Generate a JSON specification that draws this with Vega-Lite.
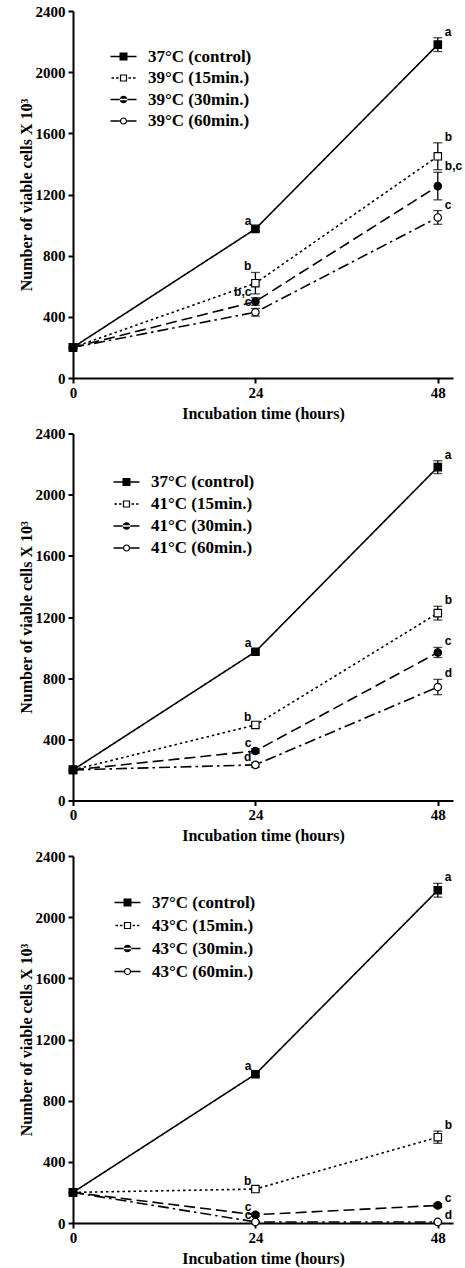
{
  "$schema": "https://vega.github.io/schema/vega-lite/v6.json",
  "padding": {"left": 18, "top": 4, "right": 5, "bottom": 5},
  "spacing": 5.5,
  "config": {
    "view": {"stroke": null},
    "axis": {"domainColor": "black", "domainWidth": 2, "tickColor": "black", "tickWidth": 2, "tickSize": 5, "labelFont": "Liberation Serif", "labelFontWeight": "bold", "labelFontSize": 15, "labelColor": "black", "titleFont": "Liberation Serif", "titleFontWeight": "bold", "titleFontSize": 16, "titleColor": "black", "grid": false, "labelFlush": false},
    "legend": {"labelFont": "Liberation Serif", "labelFontWeight": "bold", "labelFontSize": 17, "labelColor": "black", "padding": 0, "title": null, "orient": "none", "symbolSize": 4, "symbolOpacity": 1, "symbolStrokeWidth": 0, "rowPadding": 4, "labelOffset": 16}
  },
  "data": {"values": [
    {"panel": 1, "series": "39°C (60min.)", "hour": 0, "value": 200, "err": 0, "letter": ""},
    {"panel": 1, "series": "39°C (60min.)", "hour": 24, "value": 430, "err": 25, "letter": "c"},
    {"panel": 1, "series": "39°C (60min.)", "hour": 48, "value": 1050, "err": 45, "letter": "c"},
    {"panel": 1, "series": "39°C (30min.)", "hour": 0, "value": 200, "err": 0, "letter": ""},
    {"panel": 1, "series": "39°C (30min.)", "hour": 24, "value": 500, "err": 25, "letter": "b,c"},
    {"panel": 1, "series": "39°C (30min.)", "hour": 48, "value": 1255, "err": 90, "letter": "b,c"},
    {"panel": 1, "series": "39°C (15min.)", "hour": 0, "value": 200, "err": 0, "letter": ""},
    {"panel": 1, "series": "39°C (15min.)", "hour": 24, "value": 620, "err": 70, "letter": "b"},
    {"panel": 1, "series": "39°C (15min.)", "hour": 48, "value": 1450, "err": 88, "letter": "b"},
    {"panel": 1, "series": "37°C (control)", "hour": 0, "value": 200, "err": 0, "letter": ""},
    {"panel": 1, "series": "37°C (control)", "hour": 24, "value": 975, "err": 15, "letter": "a"},
    {"panel": 1, "series": "37°C (control)", "hour": 48, "value": 2180, "err": 45, "letter": "a"},
    {"panel": 2, "series": "41°C (60min.)", "hour": 0, "value": 200, "err": 0, "letter": ""},
    {"panel": 2, "series": "41°C (60min.)", "hour": 24, "value": 233, "err": 15, "letter": "d"},
    {"panel": 2, "series": "41°C (60min.)", "hour": 48, "value": 742, "err": 50, "letter": "d"},
    {"panel": 2, "series": "41°C (30min.)", "hour": 0, "value": 200, "err": 0, "letter": ""},
    {"panel": 2, "series": "41°C (30min.)", "hour": 24, "value": 324, "err": 15, "letter": "c"},
    {"panel": 2, "series": "41°C (30min.)", "hour": 48, "value": 968, "err": 33, "letter": "c"},
    {"panel": 2, "series": "41°C (15min.)", "hour": 0, "value": 200, "err": 0, "letter": ""},
    {"panel": 2, "series": "41°C (15min.)", "hour": 24, "value": 494, "err": 15, "letter": "b"},
    {"panel": 2, "series": "41°C (15min.)", "hour": 48, "value": 1225, "err": 45, "letter": "b"},
    {"panel": 2, "series": "37°C (control)", "hour": 0, "value": 200, "err": 0, "letter": ""},
    {"panel": 2, "series": "37°C (control)", "hour": 24, "value": 973, "err": 15, "letter": "a"},
    {"panel": 2, "series": "37°C (control)", "hour": 48, "value": 2180, "err": 42, "letter": "a"},
    {"panel": 3, "series": "43°C (60min.)", "hour": 0, "value": 200, "err": 0, "letter": ""},
    {"panel": 3, "series": "43°C (60min.)", "hour": 24, "value": 7, "err": 5, "letter": "c"},
    {"panel": 3, "series": "43°C (60min.)", "hour": 48, "value": 7, "err": 5, "letter": "d"},
    {"panel": 3, "series": "43°C (30min.)", "hour": 0, "value": 200, "err": 0, "letter": ""},
    {"panel": 3, "series": "43°C (30min.)", "hour": 24, "value": 54, "err": 10, "letter": "c"},
    {"panel": 3, "series": "43°C (30min.)", "hour": 48, "value": 115, "err": 12, "letter": "c"},
    {"panel": 3, "series": "43°C (15min.)", "hour": 0, "value": 200, "err": 0, "letter": ""},
    {"panel": 3, "series": "43°C (15min.)", "hour": 24, "value": 222, "err": 12, "letter": "b"},
    {"panel": 3, "series": "43°C (15min.)", "hour": 48, "value": 561, "err": 40, "letter": "b"},
    {"panel": 3, "series": "37°C (control)", "hour": 0, "value": 200, "err": 0, "letter": ""},
    {"panel": 3, "series": "37°C (control)", "hour": 24, "value": 973, "err": 15, "letter": "a"},
    {"panel": 3, "series": "37°C (control)", "hour": 48, "value": 2176, "err": 45, "letter": "a"}
  ]},
  "resolve": {"scale": {"shape": "independent", "fill": "independent", "strokeDash": "independent"}, "legend": {"shape": "independent", "fill": "independent", "strokeDash": "independent"}},
  "vconcat": [
    {
      "width": 380, "height": 367,
      "transform": [{"filter": "datum.panel == 1"}],
      "resolve": {"scale": {"shape": "independent"}},
      "encoding": {"x": {"field": "hour", "type": "quantitative", "scale": {"domain": [0, 50], "nice": false}, "axis": {"values": [0, 24, 48], "labelPadding": 2, "titlePadding": 5}, "title": "Incubation time (hours)"}},
      "layer": [
        {"mark": {"type": "line", "color": "black", "strokeWidth": 1.6},
         "encoding": {
           "y": {"field": "value", "type": "quantitative", "scale": {"domain": [0, 2400], "nice": false}, "axis": {"values": [0, 400, 800, 1200, 1600, 2000, 2400], "format": "d", "labelPadding": 3, "titlePadding": 1}, "title": "Number of viable cells X 10³"},
           "strokeDash": {"field": "series", "type": "nominal", "scale": {"range": [[1, 0], [2.5, 3], [11, 5], [11, 4, 2.5, 4]]}, "legend": null}
         }},
        {"transform": [{"filter": "datum.err > 0"}],
         "mark": {"type": "errorbar", "color": "black", "thickness": 1.3, "ticks": {"size": 9, "thickness": 1.3}},
         "encoding": {"y": {"field": "value", "type": "quantitative", "title": "Number of viable cells X 10³"}, "yError": {"field": "err"}}},
        {"mark": {"type": "point", "filled": true, "stroke": "black", "strokeWidth": 1.2, "size": 55, "opacity": 1},
         "encoding": {
           "y": {"field": "value", "type": "quantitative", "title": "Number of viable cells X 10³"},
           "shape": {"field": "series", "type": "nominal", "scale": {"range": ["square", "square", "circle", "circle"]}, "legend": null},
           "fill": {"field": "series", "type": "nominal", "scale": {"range": ["black", "white", "black", "white"]}, "legend": null}
         }},
        {"mark": {"type": "point", "filled": true, "color": "black", "size": 4, "opacity": 0},
         "encoding": {
           "y": {"field": "value", "type": "quantitative", "title": "Number of viable cells X 10³"},
           "shape": {"field": "series", "type": "nominal",
             "scale": {"range": [
               "M-13,-0.8H13V0.8H-13Z M-4,-4H4V4H-4Z",
               "M-12,-0.7H-9.5V0.7H-12Z M-7.5,-0.7H-5V0.7H-7.5Z M5,-0.7H7.5V0.7H5Z M9.5,-0.7H12V0.7H9.5Z M-3.6,-3.6H3.6V3.6H-3.6Z M-2.4,-2.4V2.4H2.4V-2.4Z",
               "M-13,-0.8H13V0.8H-13Z M-3.8,0A3.8,3.8 0 1,0 3.8,0A3.8,3.8 0 1,0 -3.8,0Z",
               "M-13,-0.8H-3.6V0.8H-13Z M3.6,-0.8H13V0.8H3.6Z M-3.6,0A3.6,3.6 0 1,1 3.6,0A3.6,3.6 0 1,1 -3.6,0Z M-2.4,0A2.4,2.4 0 1,0 2.4,0A2.4,2.4 0 1,0 -2.4,0Z"
             ]},
             "legend": {"legendX": 42, "legendY": 37, "rowPadding": 3.5}}
         }},
        {"transform": [{"filter": "datum.hour == 24 && datum.letter != ''"}, {"calculate": "datum.value + datum.err", "as": "top"}],
         "mark": {"type": "text", "align": "right", "baseline": "middle", "dx": -4, "dy": -6, "font": "Liberation Sans", "fontWeight": "bold", "fontSize": 12, "color": "black"},
         "encoding": {"y": {"field": "top", "type": "quantitative", "title": "Number of viable cells X 10³"}, "text": {"field": "letter"}}},
        {"transform": [{"filter": "datum.hour == 48 && datum.letter != ''"}, {"calculate": "datum.value + datum.err", "as": "top"}],
         "mark": {"type": "text", "align": "left", "baseline": "middle", "dx": 7, "dy": -6, "font": "Liberation Sans", "fontWeight": "bold", "fontSize": 12, "color": "black"},
         "encoding": {"y": {"field": "top", "type": "quantitative", "title": "Number of viable cells X 10³"}, "text": {"field": "letter"}}}
      ]
    },
    {
      "width": 380, "height": 367,
      "transform": [{"filter": "datum.panel == 2"}],
      "resolve": {"scale": {"shape": "independent"}},
      "encoding": {"x": {"field": "hour", "type": "quantitative", "scale": {"domain": [0, 50], "nice": false}, "axis": {"values": [0, 24, 48], "labelPadding": 2, "titlePadding": 5}, "title": "Incubation time (hours)"}},
      "layer": [
        {"mark": {"type": "line", "color": "black", "strokeWidth": 1.6},
         "encoding": {
           "y": {"field": "value", "type": "quantitative", "scale": {"domain": [0, 2400], "nice": false}, "axis": {"values": [0, 400, 800, 1200, 1600, 2000, 2400], "format": "d", "labelPadding": 3, "titlePadding": 1}, "title": "Number of viable cells X 10³"},
           "strokeDash": {"field": "series", "type": "nominal", "scale": {"range": [[1, 0], [2.5, 3], [11, 5], [11, 4, 2.5, 4]]}, "legend": null}
         }},
        {"transform": [{"filter": "datum.err > 0"}],
         "mark": {"type": "errorbar", "color": "black", "thickness": 1.3, "ticks": {"size": 9, "thickness": 1.3}},
         "encoding": {"y": {"field": "value", "type": "quantitative", "title": "Number of viable cells X 10³"}, "yError": {"field": "err"}}},
        {"mark": {"type": "point", "filled": true, "stroke": "black", "strokeWidth": 1.2, "size": 55, "opacity": 1},
         "encoding": {
           "y": {"field": "value", "type": "quantitative", "title": "Number of viable cells X 10³"},
           "shape": {"field": "series", "type": "nominal", "scale": {"range": ["square", "square", "circle", "circle"]}, "legend": null},
           "fill": {"field": "series", "type": "nominal", "scale": {"range": ["black", "white", "black", "white"]}, "legend": null}
         }},
        {"mark": {"type": "point", "filled": true, "color": "black", "size": 4, "opacity": 0},
         "encoding": {
           "y": {"field": "value", "type": "quantitative", "title": "Number of viable cells X 10³"},
           "shape": {"field": "series", "type": "nominal",
             "scale": {"range": [
               "M-13,-0.8H13V0.8H-13Z M-4,-4H4V4H-4Z",
               "M-12,-0.7H-9.5V0.7H-12Z M-7.5,-0.7H-5V0.7H-7.5Z M5,-0.7H7.5V0.7H5Z M9.5,-0.7H12V0.7H9.5Z M-3.6,-3.6H3.6V3.6H-3.6Z M-2.4,-2.4V2.4H2.4V-2.4Z",
               "M-13,-0.8H13V0.8H-13Z M-3.8,0A3.8,3.8 0 1,0 3.8,0A3.8,3.8 0 1,0 -3.8,0Z",
               "M-13,-0.8H-3.6V0.8H-13Z M3.6,-0.8H13V0.8H3.6Z M-3.6,0A3.6,3.6 0 1,1 3.6,0A3.6,3.6 0 1,1 -3.6,0Z M-2.4,0A2.4,2.4 0 1,0 2.4,0A2.4,2.4 0 1,0 -2.4,0Z"
             ]},
             "legend": {"legendX": 45, "legendY": 40, "rowPadding": 4}}
         }},
        {"transform": [{"filter": "datum.hour == 24 && datum.letter != ''"}, {"calculate": "datum.value + datum.err", "as": "top"}],
         "mark": {"type": "text", "align": "right", "baseline": "middle", "dx": -4, "dy": -6, "font": "Liberation Sans", "fontWeight": "bold", "fontSize": 12, "color": "black"},
         "encoding": {"y": {"field": "top", "type": "quantitative", "title": "Number of viable cells X 10³"}, "text": {"field": "letter"}}},
        {"transform": [{"filter": "datum.hour == 48 && datum.letter != ''"}, {"calculate": "datum.value + datum.err", "as": "top"}],
         "mark": {"type": "text", "align": "left", "baseline": "middle", "dx": 7, "dy": -6, "font": "Liberation Sans", "fontWeight": "bold", "fontSize": 12, "color": "black"},
         "encoding": {"y": {"field": "top", "type": "quantitative", "title": "Number of viable cells X 10³"}, "text": {"field": "letter"}}}
      ]
    },
    {
      "width": 380, "height": 367,
      "transform": [{"filter": "datum.panel == 3"}],
      "resolve": {"scale": {"shape": "independent"}},
      "encoding": {"x": {"field": "hour", "type": "quantitative", "scale": {"domain": [0, 50], "nice": false}, "axis": {"values": [0, 24, 48], "labelPadding": 2, "titlePadding": 5}, "title": "Incubation time (hours)"}},
      "layer": [
        {"mark": {"type": "line", "color": "black", "strokeWidth": 1.6},
         "encoding": {
           "y": {"field": "value", "type": "quantitative", "scale": {"domain": [0, 2400], "nice": false}, "axis": {"values": [0, 400, 800, 1200, 1600, 2000, 2400], "format": "d", "labelPadding": 3, "titlePadding": 1}, "title": "Number of viable cells X 10³"},
           "strokeDash": {"field": "series", "type": "nominal", "scale": {"range": [[1, 0], [2.5, 3], [11, 5], [11, 4, 2.5, 4]]}, "legend": null}
         }},
        {"transform": [{"filter": "datum.err > 0"}],
         "mark": {"type": "errorbar", "color": "black", "thickness": 1.3, "ticks": {"size": 9, "thickness": 1.3}},
         "encoding": {"y": {"field": "value", "type": "quantitative", "title": "Number of viable cells X 10³"}, "yError": {"field": "err"}}},
        {"mark": {"type": "point", "filled": true, "stroke": "black", "strokeWidth": 1.2, "size": 55, "opacity": 1},
         "encoding": {
           "y": {"field": "value", "type": "quantitative", "title": "Number of viable cells X 10³"},
           "shape": {"field": "series", "type": "nominal", "scale": {"range": ["square", "square", "circle", "circle"]}, "legend": null},
           "fill": {"field": "series", "type": "nominal", "scale": {"range": ["black", "white", "black", "white"]}, "legend": null}
         }},
        {"mark": {"type": "point", "filled": true, "color": "black", "size": 4, "opacity": 0},
         "encoding": {
           "y": {"field": "value", "type": "quantitative", "title": "Number of viable cells X 10³"},
           "shape": {"field": "series", "type": "nominal",
             "scale": {"range": [
               "M-13,-0.8H13V0.8H-13Z M-4,-4H4V4H-4Z",
               "M-12,-0.7H-9.5V0.7H-12Z M-7.5,-0.7H-5V0.7H-7.5Z M5,-0.7H7.5V0.7H5Z M9.5,-0.7H12V0.7H9.5Z M-3.6,-3.6H3.6V3.6H-3.6Z M-2.4,-2.4V2.4H2.4V-2.4Z",
               "M-13,-0.8H13V0.8H-13Z M-3.8,0A3.8,3.8 0 1,0 3.8,0A3.8,3.8 0 1,0 -3.8,0Z",
               "M-13,-0.8H-3.6V0.8H-13Z M3.6,-0.8H13V0.8H3.6Z M-3.6,0A3.6,3.6 0 1,1 3.6,0A3.6,3.6 0 1,1 -3.6,0Z M-2.4,0A2.4,2.4 0 1,0 2.4,0A2.4,2.4 0 1,0 -2.4,0Z"
             ]},
             "legend": {"legendX": 46, "legendY": 38, "rowPadding": 5}}
         }},
        {"transform": [{"filter": "datum.hour == 24 && datum.letter != ''"}, {"calculate": "datum.value + datum.err", "as": "top"}],
         "mark": {"type": "text", "align": "right", "baseline": "middle", "dx": -4, "dy": -6, "font": "Liberation Sans", "fontWeight": "bold", "fontSize": 12, "color": "black"},
         "encoding": {"y": {"field": "top", "type": "quantitative", "title": "Number of viable cells X 10³"}, "text": {"field": "letter"}}},
        {"transform": [{"filter": "datum.hour == 48 && datum.letter != ''"}, {"calculate": "datum.value + datum.err", "as": "top"}],
         "mark": {"type": "text", "align": "left", "baseline": "middle", "dx": 7, "dy": -6, "font": "Liberation Sans", "fontWeight": "bold", "fontSize": 12, "color": "black"},
         "encoding": {"y": {"field": "top", "type": "quantitative", "title": "Number of viable cells X 10³"}, "text": {"field": "letter"}}}
      ]
    }
  ]
}
